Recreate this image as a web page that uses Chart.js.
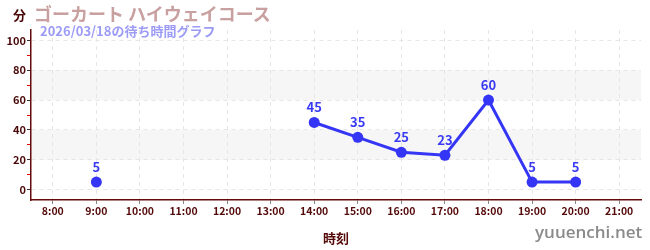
<!DOCTYPE html>
<html>
<head>
<meta charset="utf-8">
<script src="https://cdn.jsdelivr.net/npm/chart.js@4/dist/chart.umd.min.js"></script>
<style>
    html, body { margin: 0; padding: 0; background: #fff; }
    #wrap { position: relative; width: 650px; height: 250px; font-family: "Noto Sans CJK JP", sans-serif; }
    #wrap .txt { position: absolute; white-space: nowrap; font-weight: bold; line-height: 1; }
</style>
</head>
<body>
<div id="wrap">
    <canvas id="chartCanvas" width="650" height="250"></canvas>
    <div class="txt" style="left:13px; top:8px; font-size:13px; color:#4a0808;">分</div>
    <div class="txt" style="left:34px; top:4px; font-size:18px; color:#c9a0a0;">ゴーカート ハイウェイコース</div>
    <div class="txt" style="left:40px; top:24px; font-size:13px; color:#9c9cf7;">2026/03/18の待ち時間グラフ</div>
    <div class="txt" style="left:535px; top:223px; font-size:17px; color:#8a8a8a; font-family:'Open Sans', sans-serif; font-weight:600;">yuuenchi.net</div>
</div>
<script>
const hours = ["8:00", "9:00", "10:00", "11:00", "12:00", "13:00", "14:00", "15:00", "16:00", "17:00", "18:00", "19:00", "20:00", "21:00"];
const waitMinutes = [null, 5, null, null, null, null, 45, 35, 25, 23, 60, 5, 5, null];
const yTickValues = [0, 10, 20, 30, 40, 50, 60, 70, 80, 90, 100];
const shadedBands = [[20, 40], [60, 80]];

Chart.defaults.font.family = "'Noto Sans CJK JP', sans-serif";

const bandPlugin = {
    id: "bands",
    beforeDraw(chart) {
        const { ctx, chartArea } = chart;
        const y = chart.scales.y;
        ctx.save();
        ctx.fillStyle = "#f6f6f6";
        shadedBands.forEach(([lo, hi]) => {
            const top = y.getPixelForValue(hi);
            const bottom = y.getPixelForValue(lo);
            ctx.fillRect(chartArea.left, top, chartArea.right - chartArea.left, bottom - top);
        });
        ctx.restore();
    },
};

const labelPlugin = {
    id: "pointLabels",
    afterDatasetsDraw(chart) {
        const { ctx } = chart;
        const meta = chart.getDatasetMeta(0);
        ctx.save();
        ctx.font = "bold 13px 'Noto Sans CJK JP', sans-serif";
        ctx.fillStyle = "#3a3af5";
        ctx.textAlign = "center";
        ctx.textBaseline = "middle";
        meta.data.forEach((pt, i) => {
            const v = waitMinutes[i];
            if (v === null) return;
            ctx.fillText(String(v), pt.x, pt.y - 15);
        });
        ctx.restore();
    },
};

new Chart(document.getElementById("chartCanvas"), {
    type: "line",
    data: {
        labels: hours,
        datasets: [
            {
                data: waitMinutes,
                borderColor: "#3535f5",
                backgroundColor: "#3535f5",
                borderWidth: 3,
                pointRadius: 5.5,
                pointHoverRadius: 5.5,
                pointBackgroundColor: "#3535f5",
                pointBorderWidth: 0,
                tension: 0,
                spanGaps: false,
            },
        ],
    },
    options: {
        responsive: false,
        animation: false,
        events: [],
        layout: { padding: { top: 30, right: 9, left: 0, bottom: 0 } },
        plugins: {
            legend: { display: false },
            tooltip: { enabled: false },
        },
        scales: {
            x: {
                offset: true,
                afterFit(scale) { scale.height = 50; },
                grid: {
                    color: "#e6e6e6",
                    tickColor: "#888888",
                    tickLength: 4,
                },
                border: { color: "#650a0a", width: 1.5, dash: [4, 4] },
                ticks: {
                    color: "#550a0a",
                    font: { size: 10.5, weight: "bold" },
                    padding: 1,
                    maxRotation: 0,
                    autoSkip: false,
                },
                title: {
                    display: true,
                    text: "時刻",
                    color: "#550a0a",
                    font: { size: 13, weight: "bold" },
                    padding: { top: 4 },
                },
            },
            y: {
                min: -7,
                max: 107,
                afterFit(scale) { scale.width = 31; },
                afterBuildTicks(scale) {
                    scale.ticks = yTickValues.map((v) => ({ value: v }));
                },
                grid: {
                    color: (ctx) => (ctx.tick && ctx.tick.value % 20 === 0 ? "#e6e6e6" : "rgba(0,0,0,0)"),
                    tickColor: (ctx) => (ctx.tick && ctx.tick.value % 20 === 0 ? "#333333" : "#e00000"),
                    tickLength: 4,
                },
                border: { color: "#650a0a", width: 1.5, dash: [4, 4] },
                ticks: {
                    color: "#4a0808",
                    font: { size: 11, weight: "bold" },
                    padding: 1,
                    autoSkip: false,
                    callback: (v) => (v % 20 === 0 ? String(v) : ""),
                },
            },
        },
    },
    plugins: [bandPlugin, labelPlugin],
});
</script>
</body>
</html>
